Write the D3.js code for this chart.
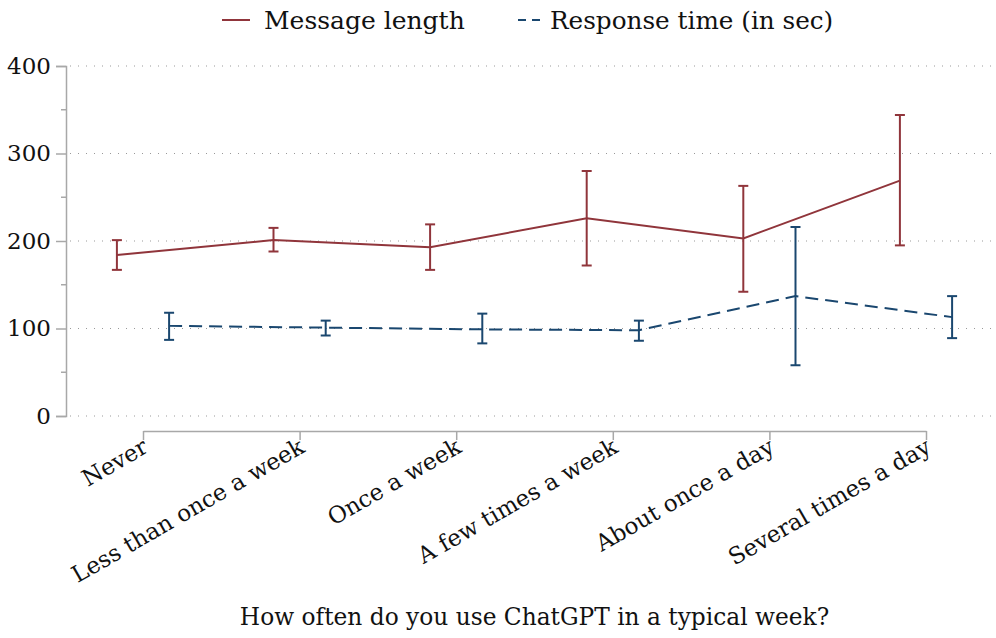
<!DOCTYPE html>
<html>
<head>
<meta charset="utf-8">
<script src="https://cdn.jsdelivr.net/npm/d3@7"></script>
<style>
  body { margin: 0; background: #fff; }
  text { font-family: "DejaVu Serif", serif; fill: #111; }
</style>
</head>
<body>
<script>
const categories = ["Never", "Less than once a week", "Once a week", "A few times a week", "About once a day", "Several times a day"]
const msgMean = [184, 201, 193, 226, 203, 269]
const msgLow = [167, 188, 167, 172, 142, 195]
const msgHigh = [201, 215, 219, 280, 263, 344]
const respMean = [103, 101, 99, 98, 137, 113]
const respLow = [87, 92, 83, 86, 58, 89]
const respHigh = [118, 109, 117, 109, 216, 137]
const yTicks = [0, 100, 200, 300, 400]

const width = 996, height = 638
const red = "#90353b", blue = "#1a476f", axisGrey = "#a8a8a8"

const svg = d3.select("body").append("svg").attr("width", width).attr("height", height)

const x = d3.scaleLinear().domain([0, categories.length - 1]).range([143, 926])
const y = d3.scaleLinear().domain([0, 400]).range([416, 66])
const offset = 1 / 6

// gridlines
svg.append("g").selectAll("line")
    .data(yTicks)
    .enter()
    .append("line")
    .attr("x1", 70).attr("x2", 994)
    .attr("y1", d => y(d)).attr("y2", d => y(d))
    .attr("stroke", "#999")
    .attr("stroke-width", 1)
    .attr("stroke-dasharray", "1,7")

// y axis
const yAxis = d3.axisLeft(y).tickValues(yTicks).tickSize(10).tickPadding(5)
const gy = svg.append("g").attr("transform", "translate(66,0)").call(yAxis)
gy.select(".domain").attr("stroke", axisGrey).attr("stroke-width", 1.5)
gy.selectAll(".tick line").attr("stroke", axisGrey).attr("stroke-width", 1.5)
gy.selectAll(".tick text").attr("font-size", 23).attr("font-family", "DejaVu Serif").attr("fill", "#111")
svg.append("g").selectAll("line")
    .data([50, 150, 250, 350])
    .enter()
    .append("line")
    .attr("x1", 61).attr("x2", 66)
    .attr("y1", d => y(d)).attr("y2", d => y(d))
    .attr("stroke", axisGrey).attr("stroke-width", 1.5)

// x axis
const xAxis = d3.axisBottom(x).tickValues(d3.range(categories.length))
    .tickSize(9).tickSizeOuter(0).tickFormat(i => categories[i])
const gx = svg.append("g").attr("transform", "translate(0,431)").call(xAxis)
gx.select(".domain").attr("stroke", axisGrey).attr("stroke-width", 1.5)
gx.selectAll(".tick line").attr("stroke", axisGrey).attr("stroke-width", 1.5)
gx.selectAll(".tick text")
    .attr("font-size", 23).attr("font-family", "DejaVu Serif").attr("fill", "#111")
    .attr("text-anchor", "end")
    .attr("dy", "0.7em")
    .attr("transform", "translate(-8,-4) rotate(-30)")

// series
function drawSeries(mean, low, high, color, shift, dash) {
    const g = svg.append("g")
    const line = d3.line().x((d, i) => x(i + shift)).y(d => y(d))
    g.append("path")
        .datum(mean)
        .attr("d", line)
        .attr("fill", "none")
        .attr("stroke", color)
        .attr("stroke-width", 2)
        .attr("stroke-dasharray", dash)

    const bars = g.selectAll(".bar")
        .data(mean.map((m, i) => ({ i: i, lo: low[i], hi: high[i] })))
        .enter()
        .append("g")
    bars.append("line")
        .attr("x1", d => x(d.i + shift)).attr("x2", d => x(d.i + shift))
        .attr("y1", d => y(d.lo)).attr("y2", d => y(d.hi))
        .attr("stroke", color).attr("stroke-width", 2)
    bars.append("line")
        .attr("x1", d => x(d.i + shift) - 5).attr("x2", d => x(d.i + shift) + 5)
        .attr("y1", d => y(d.lo)).attr("y2", d => y(d.lo))
        .attr("stroke", color).attr("stroke-width", 2)
    bars.append("line")
        .attr("x1", d => x(d.i + shift) - 5).attr("x2", d => x(d.i + shift) + 5)
        .attr("y1", d => y(d.hi)).attr("y2", d => y(d.hi))
        .attr("stroke", color).attr("stroke-width", 2)
}

drawSeries(respMean, respLow, respHigh, blue, offset, "13,7")
drawSeries(msgMean, msgLow, msgHigh, red, -offset, null)

// legend
const legend = svg.append("g")
legend.append("line").attr("x1", 222).attr("x2", 250).attr("y1", 20).attr("y2", 20)
    .attr("stroke", red).attr("stroke-width", 2)
legend.append("text").attr("x", 264).attr("y", 29).attr("font-size", 25).text("Message length")
legend.append("line").attr("x1", 518).attr("x2", 541).attr("y1", 20).attr("y2", 20)
    .attr("stroke", blue).attr("stroke-width", 2).attr("stroke-dasharray", "8,6")
legend.append("text").attr("x", 550).attr("y", 29).attr("font-size", 24.7).text("Response time (in sec)")

// axis title
svg.append("text")
    .attr("x", (x.range()[0] + x.range()[1]) / 2)
    .attr("y", 625)
    .attr("text-anchor", "middle")
    .attr("font-size", 23.3)
    .text("How often do you use ChatGPT in a typical week?")
</script>
</body>
</html>
